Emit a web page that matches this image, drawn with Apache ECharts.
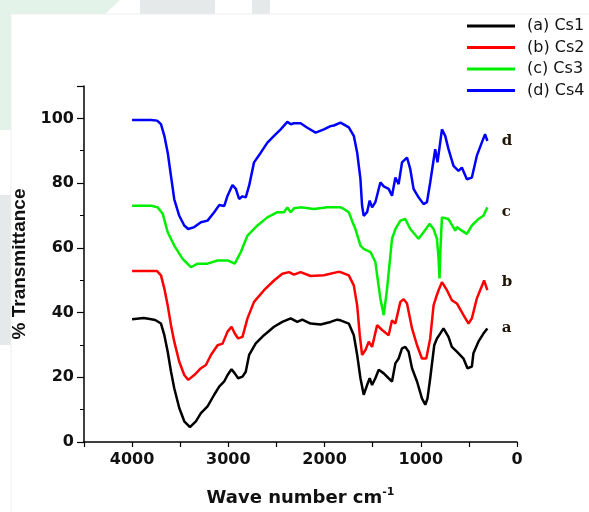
<!DOCTYPE html>
<html>
<head>
<meta charset="utf-8">
<script src="https://cdn.jsdelivr.net/npm/echarts@6/dist/echarts.min.js"></script>
<style>
html, body { margin: 0; padding: 0; background: #fff; }
#chart { width: 589px; height: 512px; }
</style>
</head>
<body>
<div id="chart"></div>
<script>
// legend names and the small letters at the right end of each curve
const seriesNames = ['(a) Cs1', '(b) Cs2', '(c) Cs3', '(d) Cs4'];
const endTags = ['a', 'b', 'c', 'd'];

// (a) Cs1
const cs1Wave = [4000, 3880, 3800, 3760, 3700, 3665, 3630, 3596, 3562, 3510, 3458, 3399, 3337, 3285, 3216,
  3147, 3095, 3043, 3008, 2967, 2933, 2898, 2853, 2819, 2784, 2715, 2629, 2525, 2439, 2352,
  2283, 2232, 2145, 2041, 1938, 1869, 1834, 1748, 1696, 1661, 1627, 1593, 1558, 1531, 1506,
  1472, 1437, 1385, 1334, 1299, 1264, 1230, 1195, 1161, 1126, 1091, 1039, 988, 953, 930,
  902, 860, 832, 798, 764, 712, 677, 625, 556, 515, 469, 453, 401, 349, 308];
const cs1T = [37.9, 38.3, 37.9, 37.7, 36.6, 33, 27.9, 21.8, 16.6, 10.5, 6.4, 4.6, 6.4, 8.9, 11,
  14.6, 17.1, 18.7, 20.7, 22.5, 21.2, 19.7, 20.2, 21.7, 26.9, 30.5, 33, 35.6, 37.1, 38.2,
  37.1, 37.8, 36.6, 36.3, 37.1, 37.8, 37.6, 36.6, 33, 26.9, 19.7, 14.6, 17.6, 19.7, 17.6,
  19.7, 22.3, 21.2, 19.7, 18.7, 24.3, 25.8, 28.9, 29.4, 27.9, 22.8, 18.7, 13.5, 11.5, 13.5,
  19.7, 29.9, 32, 33.5, 35.1, 32.5, 29.4, 27.9, 25.8, 22.8, 23.3, 27.4, 31, 33.5, 35.1];

// (b) Cs2
const cs2Wave = [4000, 3900, 3800, 3740, 3700, 3665, 3630, 3596, 3562, 3510, 3458, 3417, 3354, 3285, 3233,
  3181, 3112, 3060, 3008, 2967, 2933, 2898, 2853, 2801, 2733, 2629, 2525, 2439, 2370, 2318,
  2249, 2145, 2007, 1869, 1834, 1748, 1696, 1661, 1634, 1610, 1575, 1541, 1506, 1454, 1402,
  1334, 1299, 1264, 1212, 1178, 1143, 1091, 1039, 988, 943, 902, 867, 840, 815, 780,
  728, 677, 625, 556, 504, 469, 418, 383, 342, 308];
const cs2T = [52.8, 52.8, 52.8, 52.8, 51.5, 47.4, 42.2, 36.1, 31, 24.8, 20.7, 19.2, 20.7, 22.8, 23.8,
  26.9, 29.9, 30.4, 34.1, 35.6, 33.5, 32, 32.5, 38.2, 43.3, 46.9, 49.9, 52, 52.5, 51.7,
  52.5, 51.3, 51.5, 52.5, 52.5, 51.5, 48.4, 42.2, 33, 26.9, 28.4, 31, 29.4, 36.1, 34.6,
  33, 37.6, 36.6, 43.3, 44.1, 42.8, 35.1, 29.9, 25.8, 25.8, 32, 42.2, 44.8, 46.9, 49.4,
  46.9, 43.8, 42.8, 39.2, 36.6, 38.2, 44.3, 46.9, 49.9, 46.9];

// (c) Cs3
const cs3Wave = [4000, 3900, 3800, 3734, 3682, 3630, 3562, 3475, 3389, 3319, 3216, 3112, 3008, 2933, 2870,
  2801, 2697, 2594, 2490, 2422, 2387, 2352, 2318, 2249, 2111, 1972, 1834, 1800, 1748, 1710,
  1679, 1627, 1593, 1523, 1472, 1420, 1385, 1350, 1299, 1264, 1212, 1161, 1109, 1023, 971,
  909, 867, 832, 815, 805, 795, 780, 712, 642, 625, 573, 521, 469, 401, 349, 308];
const cs3T = [73, 73, 73, 72.5, 70.5, 64.8, 60.7, 56.6, 54, 55.1, 55.1, 56.1, 56.1, 55.1, 58.7,
  63.8, 66.9, 69.4, 71, 71, 72.5, 71, 72.2, 72.5, 72, 72.5, 72.5, 72, 71, 68,
  65.8, 60.7, 59.7, 58.7, 55.6, 44.3, 39.2, 47.4, 62.8, 65.8, 68.4, 68.9, 65.8, 62.8, 64.8,
  67.4, 65.8, 62.8, 56.6, 50.5, 60, 69.4, 68.9, 65.3, 66.4, 65.3, 64.3, 66.9, 68.9, 69.9, 72.5];

// (d) Cs4
const cs4Wave = [4000, 3900, 3800, 3740, 3700, 3665, 3630, 3596, 3562, 3510, 3458, 3417, 3354, 3285, 3216,
  3147, 3095, 3043, 3008, 2957, 2922, 2888, 2853, 2819, 2784, 2733, 2663, 2594, 2525, 2456,
  2387, 2350, 2318, 2249, 2179, 2093, 2007, 1938, 1903, 1834, 1748, 1696, 1661, 1627, 1610,
  1593, 1558, 1531, 1506, 1472, 1420, 1385, 1334, 1299, 1264, 1230, 1195, 1143, 1109, 1075,
  1023, 971, 936, 902, 850, 826, 780, 746, 712, 660, 608, 573, 521, 469, 418, 366, 332, 308];
const cs4T = [99.5, 99.5, 99.5, 99.3, 98.2, 94.6, 89.4, 82.2, 75, 69.9, 66.9, 65.8, 66.4, 67.9, 68.4,
  71, 73.2, 72.9, 76.1, 79.4, 78.2, 75.1, 75.9, 75.6, 79.2, 86.4, 89.4, 92.5, 94.6, 96.6,
  98.9, 98.2, 98.5, 98.5, 97.1, 95.6, 96.6, 97.6, 97.8, 98.7, 97.2, 94.6, 89.4, 81.2, 73,
  69.9, 71, 74.6, 72.5, 74.1, 80.2, 79, 78.2, 76.1, 81.7, 79.7, 86.4, 87.9, 84.3, 78.2,
  75.6, 73.5, 74.1, 80.2, 90.5, 86.4, 96.6, 94.6, 90.5, 85.3, 83.8, 84.8, 81.2, 81.7, 88.4, 92.5, 95.1, 93];

const waves = [cs1Wave, cs2Wave, cs3Wave, cs4Wave];
const trans = [cs1T, cs2T, cs3T, cs4T];
const colors = ['#000000', '#ff0000', '#00ee00', '#0000ff'];
const tagOffsets = [[0, 0], [0, -8], [0, 5], [0, 0]];

const myChart = echarts.init(document.getElementById('chart'));

const series = seriesNames.map((name, i) => {
  const pts = waves[i].map((w, k) => [w, trans[i][k]]);
  const last = pts[pts.length - 1];
  return {
    name: name,
    type: 'line',
    data: pts,
    showSymbol: false,
    symbol: 'none',
    lineStyle: { color: colors[i], width: 2.5 },
    itemStyle: { color: colors[i] },
    markPoint: {
      symbol: 'circle',
      symbolSize: 1,
      itemStyle: { color: 'transparent' },
      label: {
        show: true,
        position: 'right',
        distance: 14,
        offset: tagOffsets[i],
        formatter: endTags[i],
        fontFamily: 'DejaVu Serif',
        fontWeight: 'bold',
        fontSize: 15,
        color: '#1f1405'
      },
      data: [{ coord: last }]
    }
  };
});

const option = {
  animation: false,
  backgroundColor: '#fff',
  graphic: [
    // faint watermark left over around the figure
    { type: 'polygon', z: -10, shape: { points: [[0, 0], [120, 0], [105, 14], [11, 14], [11, 130], [0, 130]] }, style: { fill: '#e4f3ea' } },
    { type: 'rect', z: -10, shape: { x: 140, y: 0, width: 75, height: 14 }, style: { fill: '#e5e9e9' } },
    { type: 'rect', z: -10, shape: { x: 252, y: 0, width: 18, height: 14 }, style: { fill: '#e5e9e9' } },
    { type: 'rect', z: -10, shape: { x: 0, y: 195, width: 11, height: 150 }, style: { fill: '#e5e9e9' } },
    { type: 'line', z: -9, shape: { x1: 11, y1: 14, x2: 589, y2: 14 }, style: { stroke: '#eeeeee', lineWidth: 1 } },
    { type: 'line', z: -9, shape: { x1: 11, y1: 14, x2: 11, y2: 512 }, style: { stroke: '#eeeeee', lineWidth: 1 } }
  ],
  legend: {
    data: seriesNames,
    orient: 'vertical',
    left: 467,
    top: 18,
    padding: 0,
    icon: 'rect',
    itemWidth: 48,
    itemHeight: 3,
    itemGap: 5.5,
    textStyle: {
      fontFamily: 'DejaVu Sans',
      fontSize: 16,
      lineHeight: 16,
      color: '#111',
      padding: [0, 0, 0, 7]
    }
  },
  grid: {
    left: 84,
    right: 72,
    top: 86,
    bottom: 68
  },
  xAxis: {
    type: 'value',
    inverse: true,
    min: 0,
    max: 4500,
    interval: 500,
    name: '{t|Wave number cm}{s|-1}',
    nameLocation: 'middle',
    nameGap: 45,
    nameTextStyle: {
      rich: {
        t: { fontFamily: 'DejaVu Sans', fontWeight: 'bold', fontSize: 18, lineHeight: 22, color: '#111' },
        s: { fontFamily: 'DejaVu Sans', fontWeight: 'bold', fontSize: 11, lineHeight: 11, verticalAlign: 'top', color: '#111' }
      }
    },
    axisLine: { show: true, onZero: false, lineStyle: { color: '#000', width: 1.5 } },
    axisTick: { show: true, length: 5, lineStyle: { color: '#000', width: 1.2 } },
    axisLabel: {
      margin: 10,
      fontFamily: 'DejaVu Sans',
      fontWeight: 'bold',
      fontSize: 16,
      color: '#111',
      formatter: function (v) { return v % 1000 === 0 ? String(v) : ''; }
    },
    splitLine: { show: false }
  },
  yAxis: {
    type: 'value',
    position: 'left',
    min: 0,
    max: 110,
    interval: 20,
    name: '% Transmittance',
    nameLocation: 'middle',
    nameGap: 50,
    nameTextStyle: {
      fontFamily: 'Liberation Sans',
      fontWeight: 'bold',
      fontSize: 19,
      color: '#111'
    },
    axisLine: { show: true, onZero: false, lineStyle: { color: '#000', width: 1.5 } },
    axisTick: { show: true, length: 7, lineStyle: { color: '#000', width: 1.2 } },
    minorTick: { show: true, splitNumber: 2, length: 4, lineStyle: { color: '#000', width: 1 } },
    axisLabel: {
      margin: 10,
      showMaxLabel: false,
      fontFamily: 'DejaVu Sans',
      fontWeight: 'bold',
      fontSize: 16,
      color: '#111'
    },
    splitLine: { show: false }
  },
  series: series
};

myChart.setOption(option);
</script>
</body>
</html>
